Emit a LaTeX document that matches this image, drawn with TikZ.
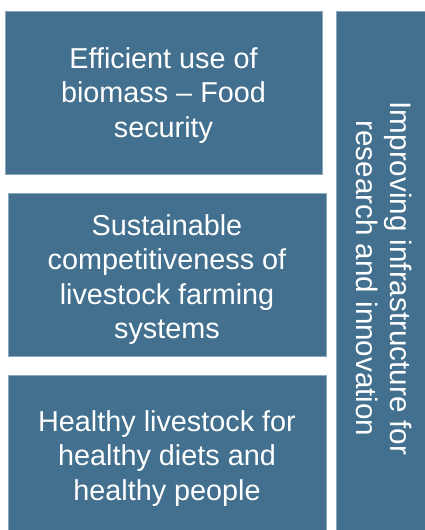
\documentclass[tikz,border=0pt]{standalone}
\usepackage{fontspec}
\setmainfont{Liberation Sans}
\definecolor{boxfill}{RGB}{66,112,142}
\definecolor{boxedge}{RGB}{140,168,188}
\begin{document}
\begin{tikzpicture}[x=1pt, y=1pt,
  box/.style = {shape=rectangle, fill=boxfill, draw=boxedge,
    line width=0.6pt, inner sep=0pt},
  boxtext/.style = {text=white, align=center, inner sep=0pt,
    font=\fontsize{28.8}{34.5}\selectfont}]
  \useasboundingbox (0,0) rectangle (425,-530);
  \node[box, minimum width=317, minimum height=163] (biomass) at (163.5,-92.5) {};
  \node[box, minimum width=318, minimum height=163] (compet) at (167,-274.5) {};
  \node[box, minimum width=318, minimum height=155] (health) at (167,-452.5) {};
  \node[box, minimum width=89, minimum height=519] (infra) at (380.5,-270.5) {};
  \node[boxtext] (biomasstext) at ([yshift=-3]biomass.center)
    {Efficient use of\\biomass -- Food\\security};
  \node[boxtext] (compettext) at ([yshift=-5]compet.center)
    {Sustainable\\competitiveness of\\livestock farming\\systems};
  \node[boxtext] (healthtext) at ([yshift=-6]health.center)
    {Healthy livestock for\\healthy diets and\\healthy people};
  \node[boxtext, rotate=-90, font=\fontsize{29.6}{34}\selectfont] (infratext)
    at ([xshift=4,yshift=-8]infra.center)
    {Improving infrastructure for\\research and innovation};
\end{tikzpicture}
\end{document}
